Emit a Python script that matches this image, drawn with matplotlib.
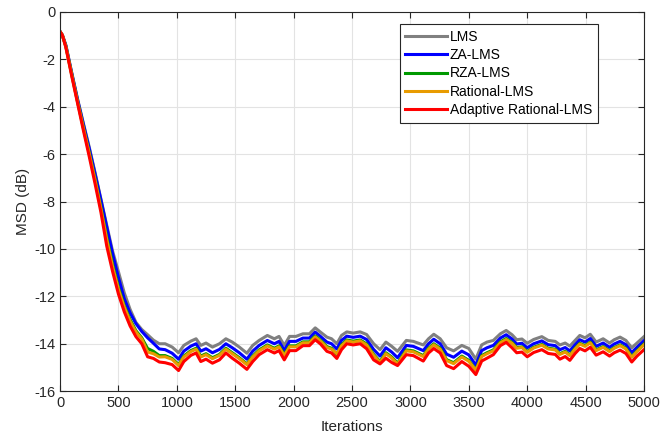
import numpy as np
import matplotlib
matplotlib.use("Agg")
import matplotlib.pyplot as plt

iters = [0, 20, 50, 100, 150, 200, 250, 300, 350, 400, 450, 500, 550, 600, 650, 700, 750, 800,
         850, 900, 960, 1015, 1060, 1120, 1165, 1205, 1250, 1305, 1365, 1420, 1475, 1535, 1600,
         1650, 1705, 1775, 1835, 1875, 1920, 1965, 2020, 2080, 2135, 2185, 2230, 2285, 2325,
         2370, 2410, 2455, 2510, 2570, 2625, 2685, 2740, 2790, 2840, 2890, 2965, 3025, 3110,
         3155, 3200, 3255, 3310, 3370, 3440, 3500, 3560, 3610, 3655, 3710, 3770, 3820, 3870,
         3910, 3955, 4000, 4055, 4125, 4180, 4240, 4280, 4325, 4365, 4410, 4450, 4495, 4540,
         4590, 4650, 4705, 4745, 4795, 4845, 4895, 4940, 5000]

lms = [-0.83, -0.98, -1.40, -2.56, -3.67, -4.70, -5.70, -6.78, -7.89, -9.00, -10.09, -10.96,
       -11.85, -12.55, -13.10, -13.40, -13.62, -13.85,
       -14.00, -14.00, -14.14, -14.38, -14.07, -13.89, -13.79, -14.07, -13.97, -14.14, -14.00,
       -13.79, -13.93, -14.14, -14.40, -14.07, -13.86, -13.65, -13.79, -13.69, -14.07, -13.69,
       -13.69, -13.58, -13.58, -13.33, -13.51, -13.72, -13.79, -14.00, -13.65, -13.50, -13.55,
       -13.50, -13.61, -14.00, -14.25, -13.93, -14.11, -14.32, -13.86, -13.90, -14.05, -13.79,
       -13.60, -13.79, -14.17, -14.30, -14.07, -14.20, -14.65, -14.05, -13.93, -13.86, -13.58,
       -13.44, -13.62, -13.83, -13.80, -13.98, -13.82, -13.70, -13.86, -13.90, -14.05, -13.97,
       -14.10, -13.86, -13.65, -13.75, -13.60, -13.93, -13.79, -13.97, -13.83, -13.72, -13.86,
       -14.17, -13.97, -13.70]

za_lms = [-0.83, -0.98, -1.42, -2.58, -3.70, -4.74, -5.76, -6.83, -7.93, -9.07, -10.20, -11.20,
          -12.10, -12.70, -13.15, -13.48, -13.75, -13.98,
          -14.22, -14.25, -14.40, -14.65, -14.31, -14.10, -14.00, -14.31, -14.21, -14.38, -14.24,
          -14.00, -14.17, -14.38, -14.65, -14.31, -14.07, -13.86, -14.00, -13.90, -14.28, -13.90,
          -13.90, -13.76, -13.76, -13.51, -13.69, -13.93, -14.00, -14.22, -13.86, -13.68, -13.73,
          -13.68, -13.82, -14.24, -14.52, -14.17, -14.35, -14.59, -14.07, -14.11, -14.29, -14.00,
          -13.81, -14.00, -14.44, -14.57, -14.31, -14.47, -14.90, -14.29, -14.17, -14.07, -13.76,
          -13.62, -13.80, -14.01, -13.98, -14.17, -14.00, -13.88, -14.04, -14.08, -14.25, -14.16,
          -14.30, -14.04, -13.83, -13.93, -13.78, -14.11, -13.97, -14.15, -14.01, -13.90, -14.04,
          -14.37, -14.15, -13.87]

rza_lms = [-0.83, -0.98, -1.46, -2.63, -3.78, -4.88, -5.94, -7.05, -8.25, -9.52, -10.65, -11.62,
           -12.40, -12.98, -13.45, -13.75, -14.20, -14.32,
           -14.50, -14.50, -14.62, -14.88, -14.52, -14.29, -14.19, -14.52, -14.42, -14.59, -14.45,
           -14.19, -14.38, -14.59, -14.85, -14.52, -14.26, -14.05, -14.19, -14.09, -14.46, -14.09,
           -14.09, -13.92, -13.92, -13.67, -13.85, -14.12, -14.19, -14.45, -14.05, -13.84, -13.89,
           -13.84, -14.01, -14.45, -14.75, -14.38, -14.56, -14.82, -14.26, -14.30, -14.50, -14.19,
           -14.00, -14.19, -14.67, -14.80, -14.52, -14.70, -15.10, -14.50, -14.38, -14.26, -13.92,
           -13.78, -13.95, -14.16, -14.13, -14.33, -14.15, -14.03, -14.19, -14.23, -14.42, -14.32,
           -14.47, -14.19, -13.98, -14.08, -13.93, -14.26, -14.12, -14.30, -14.16, -14.05, -14.19,
           -14.54, -14.30, -14.01]

rational_lms = [-0.83, -0.98, -1.47, -2.65, -3.80, -4.90, -5.97, -7.10, -8.30, -9.60, -10.75,
                -11.70, -12.45, -13.05, -13.50, -13.80, -14.35, -14.42,
                -14.56, -14.55, -14.66, -14.92, -14.56, -14.33, -14.23, -14.56, -14.46, -14.63,
                -14.49, -14.23, -14.42, -14.63, -14.88, -14.56, -14.30, -14.09, -14.23, -14.13,
                -14.50, -14.13, -14.13, -13.96, -13.96, -13.71, -13.89, -14.16, -14.23, -14.42,
                -14.09, -13.88, -13.93, -13.88, -14.05, -14.49, -14.79, -14.42, -14.60, -14.86,
                -14.30, -14.34, -14.54, -14.23, -14.04, -14.23, -14.71, -14.84, -14.56, -14.74,
                -15.12, -14.54, -14.42, -14.30, -13.96, -13.82, -13.98, -14.19, -14.16, -14.36,
                -14.18, -14.06, -14.22, -14.26, -14.45, -14.35, -14.50, -14.22, -14.01, -14.11,
                -13.96, -14.29, -14.15, -14.33, -14.19, -14.08, -14.22, -14.57, -14.33, -14.04]

adaptive_rational_lms = [-0.83, -0.98, -1.50, -2.70, -3.85, -5.00, -6.10, -7.25, -8.45, -9.88,
                         -10.95, -11.90, -12.65, -13.25, -13.70, -14.00, -14.55, -14.62,
                         -14.77, -14.80, -14.88, -15.13, -14.75, -14.49, -14.39, -14.75, -14.65,
                         -14.82, -14.68, -14.39, -14.61, -14.82, -15.08, -14.75, -14.46, -14.25,
                         -14.39, -14.29, -14.68, -14.29, -14.29, -14.08, -14.08, -13.83, -14.01,
                         -14.32, -14.39, -14.62, -14.25, -14.00, -14.05, -14.00, -14.21, -14.68,
                         -14.85, -14.61, -14.79, -14.92, -14.46, -14.50, -14.73, -14.39, -14.20,
                         -14.39, -14.92, -15.05, -14.75, -14.95, -15.30, -14.73, -14.61, -14.46,
                         -14.08, -13.94, -14.17, -14.38, -14.35, -14.55, -14.37, -14.25, -14.41,
                         -14.45, -14.65, -14.54, -14.70, -14.41, -14.20, -14.30, -14.15, -14.48,
                         -14.34, -14.52, -14.38, -14.27, -14.41, -14.77, -14.52, -14.25]

labels = ["LMS", "ZA-LMS", "RZA-LMS", "Rational-LMS", "Adaptive Rational-LMS"]
colors = ["#808080", "#0000FF", "#009900", "#E89B00", "#FF0000"]
series = [lms, za_lms, rza_lms, rational_lms, adaptive_rational_lms]

plt.rcParams["font.family"] = ["Liberation Sans", "DejaVu Sans"]
plt.rcParams["font.size"] = 10
plt.rcParams["axes.unicode_minus"] = False

fig = plt.figure(figsize=(6.61, 4.40), dpi=100)
ax = fig.add_axes([0.0908, 0.111, 0.8835, 0.862])

for vals, lab, col in zip(series, labels, colors):
    ax.plot(iters, vals, color=col, lw=2.2, label=lab)

ax.set_xlim(0, 5000)
ax.set_ylim(-16, 0)
ax.set_xticks(np.arange(0, 5001, 500))
ax.set_yticks(np.arange(-16, 1, 2))
ax.grid(True, color="#E3E3E3", lw=0.8)
ax.set_axisbelow(True)
ax.tick_params(direction="in", top=True, right=True, length=4, colors="#262626",
               labelsize=10.5, width=0.8)
for s in ax.spines.values():
    s.set_color("#262626")
    s.set_linewidth(0.8)

ax.set_xlabel("Iterations", fontsize=11, color="#262626", labelpad=7)
ax.set_ylabel("MSD (dB)", fontsize=11, color="#262626", labelpad=3)

leg = ax.legend(loc="upper left", bbox_to_anchor=(0.582, 0.968), fancybox=False,
                framealpha=1, edgecolor="#262626", handlelength=3.0, handletextpad=0.2,
                borderpad=0.4, labelspacing=0.32, fontsize=10, borderaxespad=0)
leg.get_frame().set_linewidth(0.8)

fig.savefig("out.png", dpi=100)
